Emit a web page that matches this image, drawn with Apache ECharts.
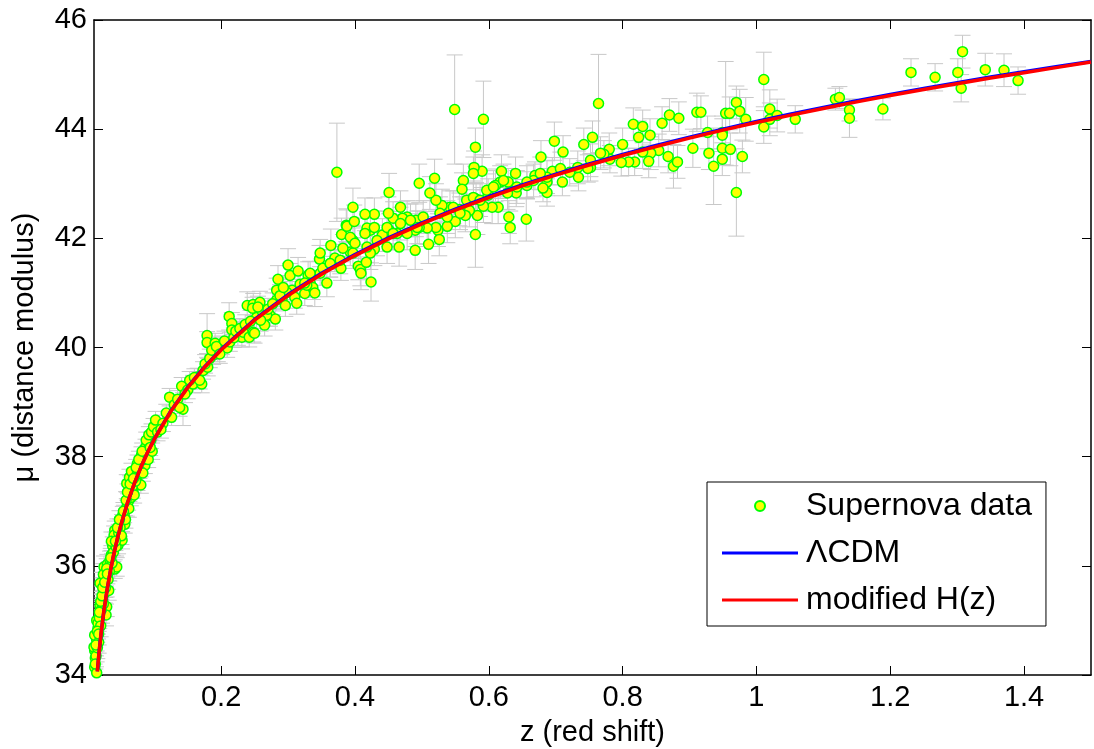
<!DOCTYPE html>
<html>
<head>
<meta charset="utf-8">
<script src="https://cdn.jsdelivr.net/npm/echarts@6/dist/echarts.min.js"></script>
<style>
html, body { margin: 0; padding: 0; background: #fff; }
#chart { width: 1094px; height: 749px; }
</style>
</head>
<body>
<div id="chart"></div>
<script>
// supernova points: [z, mu, error]
var snLow = [
	[0.011,34.14,0.22],[0.014,34.04,0.20],[0.012,34.31,0.20],[0.011,34.45,0.25],[0.014,34.64,0.20],
	[0.011,34.73,0.22],[0.016,34.86,0.20],[0.014,35.00,0.20],[0.022,35.13,0.18],[0.019,35.28,0.20],
	[0.023,35.37,0.18],[0.026,35.50,0.18],[0.021,35.68,0.20],[0.028,35.81,0.18],[0.025,35.98,0.20],
	[0.041,35.94,0.17],[0.030,36.03,0.18],[0.036,36.20,0.17],[0.038,36.36,0.17],[0.046,36.38,0.16],
	[0.044,36.53,0.16],[0.052,36.47,0.16],[0.041,36.65,0.17],[0.052,36.78,0.16],[0.053,36.93,0.16],
	[0.059,37.07,0.16],[0.061,37.17,0.15],[0.063,37.33,0.15],[0.059,37.51,0.16],[0.063,37.62,0.15],
	[0.066,37.73,0.15],[0.075,37.53,0.15],[0.074,37.66,0.15],[0.080,37.48,0.15],[0.068,37.39,0.15],
	[0.075,37.88,0.15],[0.081,38.03,0.15],[0.086,37.84,0.15],[0.087,38.17,0.15],[0.093,38.21,0.15],
	[0.029,35.25,0.18],[0.028,35.10,0.20],[0.010,34.51,0.20],[0.019,35.68,0.20],[0.032,35.55,0.18],
	[0.024,35.84,0.20],[0.044,35.98,0.17],[0.056,36.76,0.16],[0.040,36.56,0.17],
	[0.013,34.35,0.20],[0.015,34.50,0.20],[0.017,34.60,0.20],[0.016,34.95,0.20],[0.018,35.05,0.20],
	[0.020,34.90,0.20],[0.021,35.20,0.18],[0.024,35.30,0.18],[0.027,35.60,0.18],[0.031,35.75,0.18],
	[0.033,35.90,0.18],[0.034,36.10,0.17],[0.037,36.05,0.17],[0.039,36.25,0.17],[0.043,36.35,0.17],
	[0.047,36.60,0.16],[0.049,36.70,0.16],[0.051,36.55,0.16],[0.055,36.95,0.16],[0.057,36.85,0.16],
	[0.062,37.05,0.16],[0.065,37.25,0.15],[0.067,37.45,0.15],[0.070,37.30,0.15],[0.072,37.55,0.15],
	[0.078,37.75,0.15],[0.083,37.70,0.15],[0.085,37.95,0.15],[0.089,38.05,0.15],[0.091,37.95,0.15],
	[0.095,38.30,0.15],[0.097,38.10,0.15],
	[0.012,34.20,0.22],[0.013,34.55,0.20],[0.015,34.80,0.20],[0.017,34.75,0.20],[0.018,35.15,0.20],
	[0.020,35.35,0.18],[0.022,35.45,0.18],[0.023,35.60,0.18],[0.026,35.70,0.18],[0.029,35.95,0.18],
	[0.030,35.85,0.18],[0.035,36.15,0.17],[0.036,36.45,0.17],[0.042,36.45,0.17],[0.045,36.70,0.16],
	[0.048,36.85,0.16],[0.054,37.00,0.16],[0.058,37.20,0.16],[0.060,37.35,0.15],[0.064,37.50,0.15],
	[0.069,37.60,0.15],[0.073,37.80,0.15],[0.077,37.95,0.15],[0.082,38.10,0.15],[0.088,38.30,0.15],
	[0.092,38.40,0.15],[0.096,38.45,0.15],[0.099,38.55,0.15]
];

var snMid = [
	[0.094,38.17,0.15],[0.102,38.67,0.16],[0.113,38.61,0.15],[0.123,39.09,0.16],[0.126,38.72,0.15],
	[0.143,38.87,0.30],[0.141,39.29,0.16],[0.150,39.22,0.16],[0.158,39.33,0.16],[0.171,39.33,0.16],
	[0.165,39.46,0.16],[0.173,39.58,0.16],[0.180,39.64,0.16],[0.179,40.22,0.40],[0.179,40.09,0.20],
	[0.191,40.08,0.18],[0.188,39.86,0.17],[0.195,39.91,0.17],[0.201,40.04,0.17],[0.209,39.99,0.17],
	[0.213,40.10,0.17],[0.212,40.57,0.25],[0.216,40.44,0.20],[0.216,40.32,0.20],[0.225,40.22,0.18],
	[0.231,40.19,0.18],[0.239,40.77,0.25],[0.248,40.79,0.20],[0.258,40.83,0.20],[0.233,40.28,0.18],
	[0.242,40.19,0.18],[0.248,40.28,0.18],[0.253,40.55,0.20],[0.265,40.41,0.20],[0.273,40.59,0.20],
	[0.262,40.65,0.20],[0.281,40.52,0.20],[0.285,41.25,0.25],[0.283,41.05,0.22],[0.291,40.90,0.20],
	[0.296,40.77,0.20],[0.300,41.51,0.30],[0.303,41.32,0.22],[0.306,41.05,0.20],[0.310,40.92,0.20],
	[0.315,41.40,0.25],[0.318,41.16,0.22],[0.325,40.99,0.22],[0.330,41.32,0.25],[0.333,41.18,0.22],
	[0.337,41.10,0.22],[0.347,41.62,0.25],[0.348,41.36,0.22],[0.352,41.45,0.22],[0.358,41.18,0.25],
	[0.363,41.54,0.25],[0.364,41.87,0.30],[0.370,41.64,0.25],[0.379,41.45,0.22],[0.387,42.24,0.30],
	[0.393,41.75,0.25],[0.405,41.49,0.25],[0.283,40.87,0.20],[0.298,41.01,0.20],[0.313,40.81,0.20],
	[0.247,40.72,0.20],[0.255,40.74,0.20],[0.268,40.59,0.20],[0.250,40.26,0.18],[0.373,43.21,0.90],
	[0.328,41.14,0.22],[0.340,41.00,0.25],[0.378,41.60,0.25],[0.380,42.07,0.30],[0.388,42.22,0.30],
	[0.397,42.57,0.35],[0.399,42.31,0.30],[0.397,41.96,0.28],[0.397,41.73,0.28],[0.408,41.43,0.30],
	[0.424,41.20,0.35],[0.409,41.36,0.30],
	[0.105,38.45,0.16],[0.110,38.50,0.16],[0.118,38.80,0.16],[0.130,38.95,0.16],[0.135,39.05,0.16],
	[0.138,38.90,0.16],[0.146,39.15,0.16],[0.153,39.40,0.16],[0.160,39.45,0.16],[0.168,39.40,0.16],
	[0.176,39.70,0.17],[0.183,39.80,0.17],[0.186,39.95,0.17],[0.193,40.02,0.17],[0.198,39.88,0.17],
	[0.205,40.12,0.18],[0.219,40.18,0.18],[0.222,40.30,0.18],[0.228,40.35,0.18],[0.236,40.42,0.18],
	[0.244,40.48,0.20],[0.259,40.50,0.20],[0.270,40.70,0.20],[0.277,40.80,0.20],[0.288,40.95,0.20],
	[0.293,41.10,0.22],[0.348,41.73,0.25],[0.363,41.54,0.25],[0.333,41.36,0.22],[0.325,41.18,0.22],
	[0.382,41.82,0.25],[0.393,42.02,0.28]
];

var snHigh = [
	[0.549,44.36,1.00],[0.592,44.18,0.70],[0.764,44.47,0.90],[0.816,44.09,0.30],[0.830,44.05,0.30],
	[0.841,43.89,0.30],[0.824,43.85,0.30],[0.859,44.11,0.30],[0.870,44.26,0.30],[0.884,44.20,0.30],
	[0.911,44.31,0.35],[0.905,43.65,0.35],[0.868,43.50,0.30],[0.876,43.32,0.40],[0.882,43.40,0.30],
	[0.854,43.61,0.30],[0.842,43.56,0.30],[0.839,43.41,0.30],[0.830,43.58,0.30],[0.818,43.40,0.25],
	[0.809,43.40,0.25],[0.798,43.39,0.25],[0.800,43.72,0.30],[0.780,43.63,0.30],[0.781,43.45,0.25],
	[0.772,43.54,0.25],[0.755,43.85,0.30],[0.742,43.72,0.30],[0.752,43.30,0.25],[0.748,43.28,0.25],
	[0.734,43.12,0.25],[0.721,43.21,0.25],[0.710,43.03,0.25],[0.711,43.58,0.30],[0.698,43.78,0.35],
	[0.695,43.23,0.25],[0.687,43.03,0.25],[0.687,42.84,0.25],[0.681,42.92,0.25],[0.678,43.49,0.30],
	[0.669,43.15,0.25],[0.657,42.97,0.25],[0.656,42.35,0.40],[0.640,43.19,0.30],[0.641,42.83,0.25],
	[0.629,43.03,0.25],[0.630,42.39,0.30],[0.632,42.20,0.30],[0.619,43.23,0.30],[0.617,43.03,0.30],
	[0.614,42.57,0.30],[0.605,42.57,0.30],[0.610,42.97,0.30],[0.599,42.79,0.30],[0.592,42.59,0.30],
	[0.590,43.23,0.30],[0.580,43.67,0.35],[0.578,43.30,0.30],[0.577,43.19,0.30],[0.581,42.72,0.30],
	[0.583,42.42,0.35],[0.580,42.07,0.60],[0.571,42.51,0.30],[0.562,43.06,0.30],[0.560,42.90,0.30],
	[0.565,42.42,0.30],[0.556,42.53,0.30],[0.550,42.31,0.30],[0.538,42.22,0.30],[0.542,42.57,0.30],
	[0.530,42.60,0.30],[0.524,42.15,0.30],[0.521,42.70,0.30],[0.519,43.10,0.35],[0.512,42.83,0.30],
	[0.510,41.89,0.35],[0.521,42.20,0.30],[0.526,41.98,0.30],[0.508,42.19,0.30],[0.496,43.01,0.35],
	[0.496,42.20,0.30],[0.490,41.78,0.35],[0.491,42.33,0.30],[0.478,42.39,0.30],[0.468,42.57,0.30],
	[0.471,42.37,0.30],[0.466,41.84,0.35],[0.463,42.09,0.30],[0.457,42.37,0.30],[0.450,42.46,0.30],
	[0.451,42.84,0.35],[0.451,42.15,0.30],[0.448,41.84,0.30],[0.441,42.06,0.30],[0.429,42.44,0.30],
	[0.423,42.15,0.30],[0.418,42.19,0.30],[0.429,42.20,0.30],[0.429,41.80,0.30],[0.415,42.44,0.30],
	[0.423,41.73,0.30],[0.417,41.56,0.30],
	[0.400,41.91,0.28],[0.415,42.09,0.28],[0.433,41.96,0.28],[0.448,42.20,0.30],[0.468,42.27,0.30],
	[0.483,42.33,0.30],[0.490,42.15,0.30],[0.502,42.39,0.30],[0.527,42.46,0.30],[0.547,42.57,0.30],
	[0.567,42.70,0.30],[0.577,42.75,0.30],[0.597,42.88,0.30],[0.607,42.94,0.30],[0.622,43.06,0.30],
	[0.642,42.94,0.30],[0.667,43.06,0.30],[0.687,43.12,0.30],[0.707,43.28,0.30],[0.733,43.30,0.30],
	[0.752,43.43,0.30],[0.767,43.56,0.30],[0.418,41.84,0.28],[0.457,42.09,0.30],[0.478,42.09,0.30],
	[0.493,42.20,0.30],[0.538,42.39,0.30],[0.557,42.46,0.30],[0.587,42.70,0.30],[0.628,42.83,0.30],
	[0.657,43.03,0.30],[0.677,43.19,0.30],
	[0.917,44.31,0.30],[0.927,43.94,0.30],[0.929,43.56,0.30],[0.936,43.32,0.70],[0.949,43.94,0.30],
	[0.949,43.89,0.30],[0.949,43.65,0.30],[0.949,43.45,0.30],[0.954,44.29,0.95],[0.960,44.29,0.30],
	[0.961,43.63,0.30],[0.970,44.49,0.30],[0.975,44.33,0.40],[0.970,42.84,0.80],[0.979,43.50,0.30],
	[0.984,44.18,0.40],[1.011,44.91,0.50],[1.011,44.04,0.30],[1.020,44.37,0.35],[1.020,44.18,0.30],
	[1.031,44.25,0.30],[1.058,44.18,0.25],[1.118,44.55,0.20],[1.124,44.58,0.20],[1.139,44.35,0.20],
	[1.139,44.20,0.35],[1.189,44.37,0.20],[1.231,45.04,0.25],[1.267,44.95,0.25],[1.301,45.04,0.25],
	[1.308,45.42,0.30],[1.306,44.75,0.25],[1.342,45.09,0.30],[1.370,45.08,0.30],[1.391,44.89,0.25]
];

// model curves (distance modulus vs z)
var curveZ = [0.015,0.0175,0.02,0.0225,0.025,0.03,0.035,0.04,0.045,0.05,0.06,0.07,0.08,0.09,0.1,
	0.125,0.15,0.175,0.2,0.25,0.3,0.35,0.4,0.45,0.5,0.55,0.6,0.65,0.7,0.75,0.8,0.85,0.9,0.95,
	1.0,1.05,1.1,1.15,1.2,1.25,1.3,1.35,1.4,1.45,1.5];
var lcdmMu = [34.065,34.404,34.698,34.958,35.191,35.595,35.938,36.236,36.500,36.737,37.149,37.500,37.805,38.076,38.320,
	38.842,39.273,39.643,39.966,40.514,40.970,41.360,41.703,42.009,42.284,42.535,42.766,42.979,43.177,43.363,43.536,43.700,43.855,44.001,
	44.140,44.272,44.399,44.519,44.635,44.746,44.852,44.955,45.053,45.148,45.240];
var modMu = [34.065,34.404,34.698,34.958,35.191,35.595,35.938,36.236,36.500,36.737,37.149,37.500,37.805,38.076,38.315,
	38.832,39.263,39.633,39.954,40.500,40.952,41.342,41.684,41.990,42.265,42.516,42.747,42.960,43.158,43.344,43.517,43.681,43.836,43.982,
	44.121,44.253,44.380,44.500,44.616,44.727,44.833,44.936,45.034,45.132,45.232];

var xTicks = [0.2,0.4,0.6,0.8,1.0,1.2,1.4];

var FONT = "'Liberation Sans', Arial, Helvetica, sans-serif";
var LINE_ICON = 'path://M0,0 L76,0 L76,3 L0,3 Z';

var sn = snLow.concat(snMid, snHigh);
var snPoints = sn.map(function(d){ return [d[0], d[1]]; });
var lcdmLine = curveZ.map(function(z, i){ return [z, lcdmMu[i]]; });
var modLine = curveZ.map(function(z, i){ return [z, modMu[i]]; });

function renderErrorBar(params, api) {
	var x = api.value(0), y = api.value(1), e = api.value(2);
	var top = api.coord([x, y + e]);
	var bot = api.coord([x, y - e]);
	var w = 8;
	var st = { stroke: '#c8c8c8', lineWidth: 1 };
	return {
		type: 'group',
		children: [
			{ type: 'line', shape: { x1: top[0], y1: top[1], x2: bot[0], y2: bot[1] }, style: st },
			{ type: 'line', shape: { x1: top[0] - w, y1: top[1], x2: top[0] + w, y2: top[1] }, style: st },
			{ type: 'line', shape: { x1: bot[0] - w, y1: bot[1], x2: bot[0] + w, y2: bot[1] }, style: st }
		]
	};
}

function baseAxis() {
	return {
		type: 'value',
		axisLine: { show: true, onZero: false, lineStyle: { color: '#000', width: 1.5 } },
		axisTick: { show: true, inside: true, length: 9, lineStyle: { color: '#000', width: 1 } },
		splitLine: { show: false }
	};
}

var xBottom = baseAxis();
xBottom.min = 0.01; xBottom.max = 1.5;
xBottom.axisTick.customValues = xTicks;
xBottom.axisLabel = { customValues: xTicks, fontSize: 29, color: '#000', fontFamily: FONT, margin: 8,
	formatter: function(v){ return String(+(+v).toFixed(2)); } };
xBottom.name = 'z (red shift)';
xBottom.nameLocation = 'middle';
xBottom.nameGap = 43;
xBottom.nameTextStyle = { fontSize: 29, color: '#000', fontFamily: FONT };

var xTop = baseAxis();
xTop.position = 'top';
xTop.min = 0.01; xTop.max = 1.5;
xTop.axisTick.customValues = xTicks;
xTop.axisLabel = { show: false };

var yLeft = baseAxis();
yLeft.min = 34; yLeft.max = 46; yLeft.interval = 2;
yLeft.axisLabel = { fontSize: 29, color: '#000', fontFamily: FONT, margin: 7 };
yLeft.name = 'μ (distance modulus)';
yLeft.nameLocation = 'middle';
yLeft.nameGap = 55;
yLeft.nameTextStyle = { fontSize: 29, color: '#000', fontFamily: FONT };

var yRight = baseAxis();
yRight.position = 'right';
yRight.min = 34; yRight.max = 46; yRight.interval = 2;
yRight.axisLabel = { show: false };

var chart = echarts.init(document.getElementById('chart'));

var option = {
	animation: false,
	backgroundColor: '#fff',
	grid: { left: 94, right: 3, top: 20, bottom: 74, outerBoundsMode: 'none' },
	legend: {
		left: 707, top: 482,
		orient: 'vertical',
		align: 'left',
		padding: [8, 14, 10, 15],
		itemGap: 15,
		itemWidth: 76,
		itemHeight: 10,
		borderColor: '#000',
		borderWidth: 1,
		borderRadius: 0,
		backgroundColor: '#fff',
		textStyle: { fontSize: 32, color: '#000', fontFamily: FONT, lineHeight: 30, padding: [0, 0, 0, 3] },
		data: [
			{ name: 'Supernova data' },
			{ name: 'ΛCDM', icon: LINE_ICON },
			{ name: 'modified H(z)', icon: LINE_ICON }
		]
	},
	xAxis: [xBottom, xTop],
	yAxis: [yLeft, yRight],
	series: [
		{
			type: 'custom',
			renderItem: renderErrorBar,
			data: sn,
			encode: { x: 0, y: 1 },
			clip: true,
			silent: true,
			z: 1
		},
		{
			name: 'Supernova data',
			type: 'scatter',
			data: snPoints,
			symbol: 'circle',
			symbolSize: 10,
			itemStyle: { color: '#ffff00', borderColor: '#00ff00', borderWidth: 1.5, opacity: 1 },
			z: 2
		},
		{
			name: 'ΛCDM',
			type: 'line',
			data: lcdmLine,
			symbol: 'none',
			lineStyle: { color: '#0000ff', width: 3.5 },
			itemStyle: { color: '#0000ff' },
			z: 3
		},
		{
			name: 'modified H(z)',
			type: 'line',
			data: modLine,
			symbol: 'none',
			lineStyle: { color: '#ff0000', width: 3.5 },
			itemStyle: { color: '#ff0000' },
			z: 4
		}
	]
};

chart.setOption(option);
</script>
</body>
</html>
